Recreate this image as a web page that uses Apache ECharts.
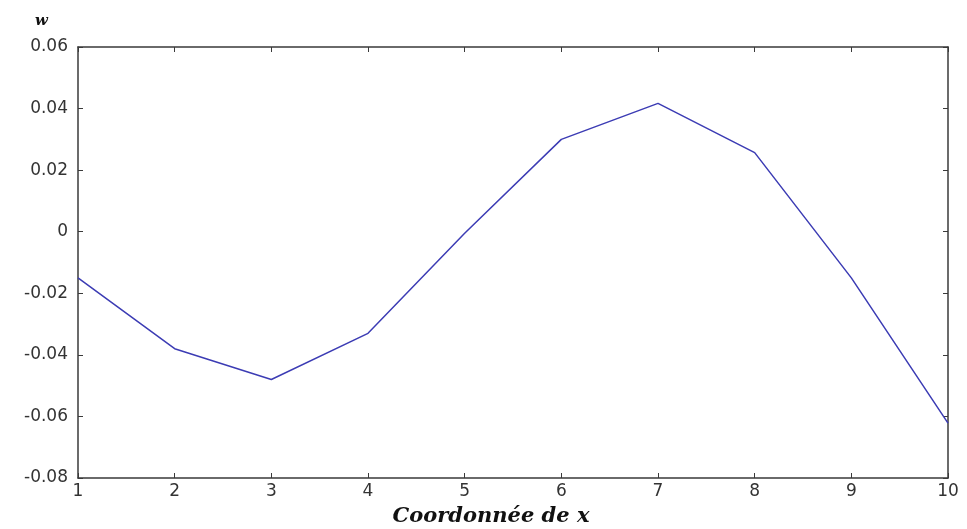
<!DOCTYPE html>
<html>
<head>
<meta charset="utf-8">
<script src="https://cdn.jsdelivr.net/npm/echarts@6/dist/echarts.min.js"></script>
<style>
  html, body { margin: 0; padding: 0; background: #fff; }
  #chart { width: 967px; height: 529px; }
</style>
</head>
<body>
<div id="chart"></div>
<script>
// abscisses (coordonnée de x)
var xValues = [1, 2, 3, 4, 5, 6, 7, 8, 9, 10];
// valeurs de w
var wValues = [-0.015, -0.038, -0.048, -0.033, -0.0005, 0.030, 0.0417, 0.0257, -0.015, -0.0622];
// graduations de l'axe y
var yTicks = [-0.08, -0.06, -0.04, -0.02, 0, 0.02, 0.04, 0.06];

var points = [];
for (var i = 0; i < xValues.length; i++) {
  points.push([xValues[i], wValues[i]]);
}

var axisCol = '#3a3a3a';
var labelStyle = { color: '#333', fontSize: 17, fontFamily: 'DejaVu Sans, sans-serif' };

function fmtY(v) {
  if (v === 0) return '0';
  return v.toFixed(2);
}

var chart = echarts.init(document.getElementById('chart'));
chart.setOption({
  animation: false,
  backgroundColor: '#fff',
  grid: { left: 78, right: 19, top: 47, bottom: 51, outerBoundsMode: 'none', containLabel: false },
  xAxis: [{
    type: 'value',
    min: xValues[0],
    max: xValues[xValues.length - 1],
    interval: 1,
    name: 'Coordonnée de x',
    nameLocation: 'middle',
    nameGap: 28,
    nameTextStyle: {
      fontFamily: 'DejaVu Serif, serif', fontStyle: 'italic', fontWeight: 'bold',
      fontSize: 21, color: '#111', padding: [0, 44, 0, 0]
    },
    axisLine: { onZero: false, lineStyle: { color: axisCol, width: 1.5 } },
    axisTick: { inside: true, length: 5, lineStyle: { color: axisCol } },
    axisLabel: Object.assign({ margin: 5 }, labelStyle),
    splitLine: { show: false }
  }, {
    type: 'value',
    position: 'top',
    min: xValues[0],
    max: xValues[xValues.length - 1],
    interval: 1,
    axisLine: { show: true, onZero: false, lineStyle: { color: axisCol, width: 1.5 } },
    axisTick: { inside: true, length: 5, lineStyle: { color: axisCol } },
    axisLabel: { show: false },
    splitLine: { show: false }
  }],
  yAxis: [{
    type: 'value',
    min: yTicks[0],
    max: yTicks[yTicks.length - 1],
    interval: 0.02,
    name: 'w',
    nameLocation: 'end',
    nameGap: 18,
    nameTextStyle: {
      fontFamily: 'DejaVu Serif, serif', fontStyle: 'italic', fontWeight: 'bold',
      fontSize: 15, color: '#111', align: 'right', padding: [0, 30, 0, 0]
    },
    axisLine: { show: true, onZero: false, lineStyle: { color: axisCol, width: 1.5 } },
    axisTick: { show: true, inside: true, length: 5, lineStyle: { color: axisCol } },
    axisLabel: Object.assign({ margin: 10, formatter: fmtY }, labelStyle),
    splitLine: { show: false }
  }, {
    type: 'value',
    position: 'right',
    min: yTicks[0],
    max: yTicks[yTicks.length - 1],
    interval: 0.02,
    axisLine: { show: true, onZero: false, lineStyle: { color: axisCol, width: 1.5 } },
    axisTick: { show: true, inside: true, length: 5, lineStyle: { color: axisCol } },
    axisLabel: { show: false },
    splitLine: { show: false }
  }],
  series: [{
    type: 'line',
    data: points,
    showSymbol: false,
    lineStyle: { color: '#3c3cb4', width: 1.5 }
  }]
});
</script>
</body>
</html>
